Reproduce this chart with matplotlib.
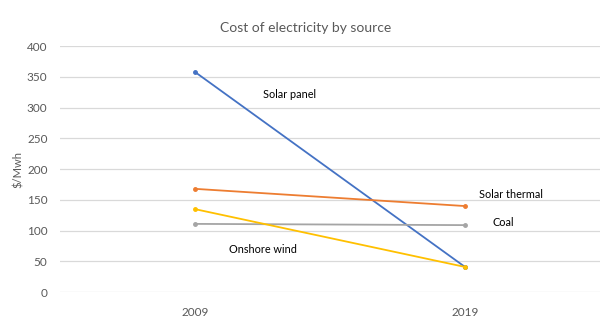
import matplotlib.pyplot as plt

years = ["2009", "2019"]
solar_panel = [358, 41]
solar_thermal = [168, 140]
coal = [111, 109]
onshore_wind = [135, 41]

series = [
    ("Solar panel", solar_panel, "#4472C4", (0.35, 322)),
    ("Solar thermal", solar_thermal, "#ED7D31", (1.17, 158)),
    ("Coal", coal, "#A5A5A5", (1.14, 114)),
    ("Onshore wind", onshore_wind, "#FFC000", (0.25, 70)),
]

plt.rcParams["font.family"] = ["Lato", "DejaVu Sans"]

fig = plt.figure(figsize=(6, 3.32), dpi=100)
ax = fig.add_axes([0.1, 0.12, 0.9, 0.741])

x = range(len(years))
for name, vals, color, (tx, ty) in series:
    ax.plot(x, vals, color=color, linewidth=1.3, marker="o", markersize=2.5, zorder=3)
    ax.text(tx, ty, name, fontsize=7.8, color="black", ha="center", va="center")

ax.set_xlim(-0.5, 1.5)
ax.set_ylim(0, 400)
ax.set_yticks(range(0, 401, 50))
ax.set_xticks(list(x))
ax.set_xticklabels(years)
ax.grid(axis="y", color="#D9D9D9", linewidth=0.9)
ax.set_axisbelow(True)
for s in ax.spines.values():
    s.set_visible(False)
ax.tick_params(length=0, labelsize=8.5, labelcolor="#595959", pad=9)
ax.tick_params(axis="x", pad=11)

ax.set_ylabel("$/Mwh", fontsize=8, color="#595959", labelpad=2)
fig.text(0.51, 0.915, "Cost of electricity by source", fontsize=10,
         color="#595959", ha="center", va="center")

fig.savefig("out.png", dpi=100)
